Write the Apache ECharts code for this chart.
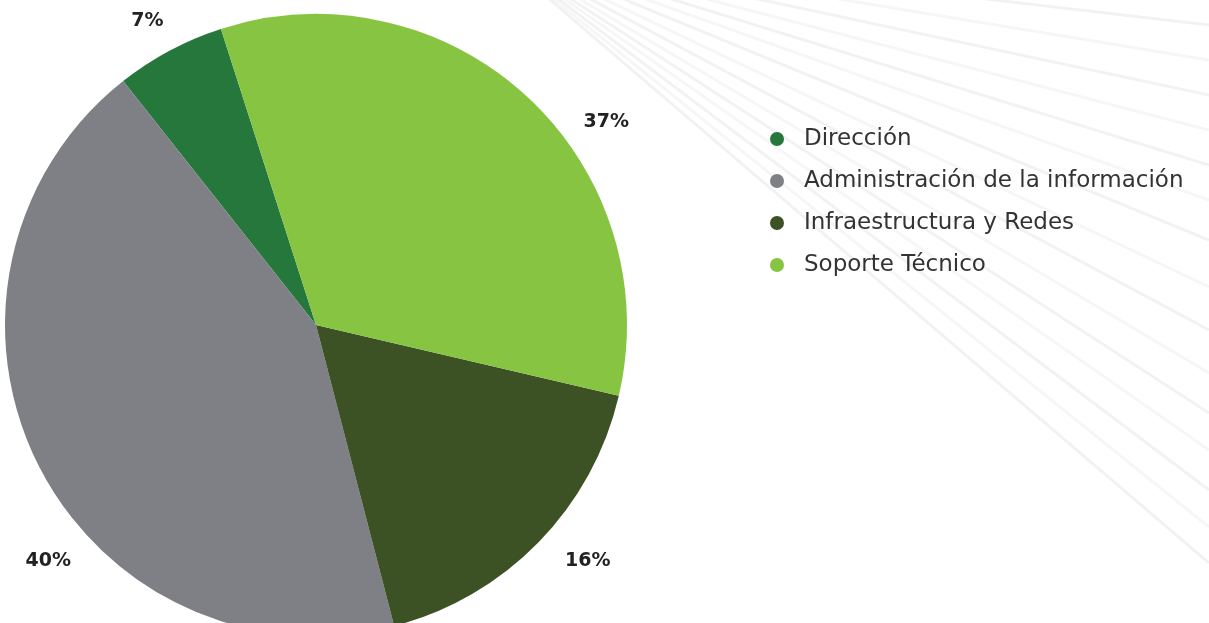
<!DOCTYPE html>
<html>
<head>
<meta charset="utf-8">
<script src="https://cdn.jsdelivr.net/npm/echarts@6/dist/echarts.min.js"></script>
<style>
html,body{margin:0;padding:0;background:#fff;}
#chart{width:1209px;height:623px;}
</style>
</head>
<body>
<div id="chart"></div>
<script>
// Categories (legend order)
const categories = ['Dirección', 'Administración de la información', 'Infraestructura y Redes', 'Soporte Técnico'];
// Slice sizes as drawn in the picture (share of the circle, %)
const sliceValues = [5.7, 43.4, 17.3, 33.6];
// Percent labels printed on the picture
const labelTexts = ['7%', '40%', '16%', '37%'];

const colors = ['#25773b', '#7f8086', '#3c5225', '#86c442'];
const CENTER = [316, 325];
const RADIUS = 311;
// label placement (angle in degrees, counter-clockwise from 3 o'clock; distance from centre)
const labelPlace = [[119.0, 348], [221.4, 357], [319.0, 360], [34.9, 354]];

const chart = echarts.init(document.getElementById('chart'), null, {renderer: 'canvas'});

// decorative faint rays in the background
const rayEnds = [25, 60, 95, 130, 165, 200, 240, 287, 330, 373, 413, 450, 490, 527, 563];
const rays = rayEnds.map(function (y, i) {
  return {
    type: 'line', silent: true, z: -10,
    shape: {x1: 480, y1: -60, x2: 1209, y2: y},
    style: {stroke: 'rgba(0,0,0,' + (i % 2 ? 0.035 : 0.05) + ')', lineWidth: 3}
  };
});

const option = {
  backgroundColor: '#ffffff',
  animation: false,
  color: colors,
  graphic: rays,
  legend: {
    orient: 'vertical',
    left: 765,
    top: 122,
    icon: 'circle',
    itemWidth: 14,
    itemHeight: 14,
    itemGap: 18,
    data: categories,
    textStyle: {
      fontFamily: 'DejaVu Sans',
      fontSize: 23,
      color: '#333333',
      lineHeight: 24,
      padding: [0, 0, 0, 15]
    }
  },
  series: [{
    type: 'pie',
    center: CENTER,
    radius: RADIUS,
    startAngle: 107.8,
    clockwise: false,
    avoidLabelOverlap: false,
    itemStyle: {borderWidth: 0},
    emphasis: {disabled: true},
    label: {
      show: true,
      position: 'outside',
      fontFamily: 'DejaVu Sans',
      fontWeight: 'bold',
      fontSize: 19,
      color: '#222222',
      formatter: function (p) { return labelTexts[p.dataIndex]; }
    },
    labelLine: {show: false},
    labelLayout: function (p) {
      const pl = labelPlace[p.dataIndex];
      const a = pl[0] * Math.PI / 180;
      return {
        x: CENTER[0] + pl[1] * Math.cos(a),
        y: CENTER[1] - pl[1] * Math.sin(a),
        align: 'center',
        verticalAlign: 'middle'
      };
    },
    data: categories.map(function (c, i) { return {name: c, value: sliceValues[i]}; })
  }]
};
chart.setOption(option);
</script>
</body>
</html>
